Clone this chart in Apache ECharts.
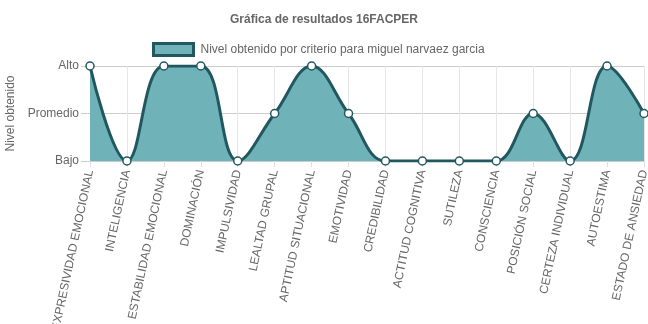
<!DOCTYPE html>
<html><head><meta charset="utf-8">
<script src="https://cdn.jsdelivr.net/npm/echarts@6/dist/echarts.min.js"></script>
<style>html,body{margin:0;padding:0;background:#fff}#c{width:648px;height:324px}</style>
</head><body><div id="c"></div>
<script>
const categories = ["EXPRESIVIDAD EMOCIONAL","INTELIGENCIA","ESTABILIDAD EMOCIONAL","DOMINACIÓN","IMPULSIVIDAD","LEALTAD GRUPAL","APTITUD SITUACIONAL","EMOTIVIDAD","CREDIBILIDAD","ACTITUD COGNITIVA","SUTILEZA","CONSCIENCIA","POSICIÓN SOCIAL","CERTEZA INDIVIDUAL","AUTOESTIMA","ESTADO DE ANSIEDAD"];
const levels = [2,0,2,2,0,1,2,1,0,0,0,0,1,0,2,1];
const levelLabels = ["Bajo","Promedio","Alto"];
const seriesName = "Nivel obtenido por criterio para miguel narvaez garcia";
const titleText = "Gráfica de resultados 16FACPER";
const yName = "Nivel obtenido";

const font = "'Liberation Sans', Arial, sans-serif";
const chart = echarts.init(document.getElementById('c'));
chart.setOption({
  animation:false,
  title:{text:titleText,left:'center',top:9,textStyle:{fontFamily:font,fontSize:12,fontWeight:'bold',color:'#666'}},
  legend:{data:[seriesName],top:42,left:152,padding:0,itemWidth:40,itemHeight:12,itemGap:6,
    textStyle:{fontFamily:font,fontSize:12,color:'#666',padding:[0,0,0,2]},
    itemStyle:{color:'#6fb3b8',borderColor:'#215860',borderWidth:3},icon:'rect'},
  grid:{left:90,right:4,top:66,bottom:163,containLabel:false,outerBoundsMode:'none'},
  xAxis:{type:'category',data:categories,boundaryGap:false,
    axisLine:{lineStyle:{color:'#ccc'}},
    axisTick:{show:true,length:6,lineStyle:{color:'#e0e0e0'}},
    splitLine:{show:true,lineStyle:{color:'#e6e6e6'}},
    axisLabel:{interval:0,rotate:78,margin:9,fontFamily:font,fontSize:12,color:'#666',hideOverlap:false}},
  yAxis:{type:'value',min:0,max:2,interval:1,name:yName,nameLocation:'middle',nameGap:70,
    nameTextStyle:{fontFamily:font,fontSize:12,color:'#666'},
    axisLine:{show:true,lineStyle:{color:'#e0e0e0'}},
    axisTick:{show:true,length:9,lineStyle:{color:'#ccc'}},
    splitLine:{lineStyle:{color:'#ccc'}},
    axisLabel:{margin:11,fontFamily:font,fontSize:12,color:'#666',formatter:v=>levelLabels[v]}},
  series:[{name:seriesName,type:'line',data:levels,smooth:0.4,
    symbol:'circle',symbolSize:8,showAllSymbol:true,
    lineStyle:{color:'#215860',width:3},
    itemStyle:{color:'#fff',borderColor:'#215860',borderWidth:1.5},
    areaStyle:{color:'#6fb3b8',opacity:1}}]
});
</script></body></html>
